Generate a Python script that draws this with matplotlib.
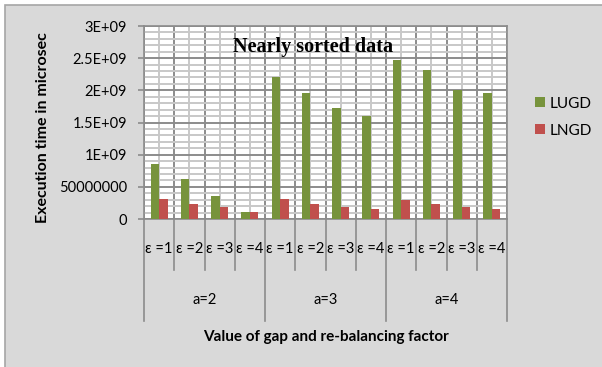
import matplotlib
matplotlib.use("Agg")
import matplotlib.pyplot as plt
import numpy as np
from matplotlib.patches import Rectangle
from matplotlib.transforms import blended_transform_factory

plt.rcParams['font.family'] = ['Lato', 'DejaVu Sans']

# Data: execution times for nearly sorted input
groups = ["a=2", "a=3", "a=4"]
eps_labels = ["ε =1", "ε =2", "ε =3", "ε =4"]
lugd = [0.86e9, 0.62e9, 0.36e9, 0.11e9,
        2.21e9, 1.96e9, 1.73e9, 1.60e9,
        2.47e9, 2.31e9, 2.01e9, 1.955e9]
lngd = [0.305e9, 0.233e9, 0.18e9, 0.104e9,
        0.305e9, 0.233e9, 0.19e9, 0.155e9,
        0.30e9, 0.228e9, 0.18e9, 0.15e9]
ytick_vals = [0, 0.5e9, 1.0e9, 1.5e9, 2.0e9, 2.5e9, 3.0e9]
ytick_labels = ["0", "50000000", "1E+09", "1.5E+09", "2E+09", "2.5E+09", "3E+09"]

W, H = 602, 367
fig = plt.figure(figsize=(W / 100, H / 100), dpi=100)
fig.patch.set_facecolor("white")

# chart area background with a thin border
fig.patches.append(Rectangle((5 / W, -0.1), 1.2, 1 - 5 / H + 0.1,
                             transform=fig.transFigure, facecolor="#d9d9d9",
                             edgecolor="#a6a6a6", linewidth=1.2, zorder=-10))

left, right, top, bottom = 144, 507, 26, 219
ax = fig.add_axes([left / W, 1 - bottom / H, (right - left) / W, (bottom - top) / H])
ax.set_facecolor("white")

n = len(lugd)
x = np.arange(n)
bw = 0.28
ax.bar(x - bw / 2, lugd, width=bw, color="#77933c", label="LUGD", zorder=3)
ax.bar(x + bw / 2, lngd, width=bw, color="#c0504d", label="LNGD", zorder=3)

ax.set_xlim(-0.5, n - 0.5)
ax.set_ylim(0, 3e9)

# gridlines: dark at major steps / category boundaries, light in between
ax.set_yticks(ytick_vals)
ax.set_yticklabels(ytick_labels, fontsize=10.5)
ax.set_yticks(np.arange(0, 3e9 + 1, 1e8), minor=True)
ax.set_xticks(np.arange(n + 1) - 0.5)
ax.set_xticks(x, minor=True)
ax.set_xticklabels([])
ax.grid(which="major", color="#8c8c8c", linewidth=1.4, zorder=1)
ax.grid(which="minor", color="#c8c8c8", linewidth=1.4, zorder=0.5)
ax.set_axisbelow(True)
ax.tick_params(axis="y", which="major", length=4.3, width=1.2, color="#8c8c8c", pad=8)
ax.tick_params(axis="y", which="minor", length=0)
ax.tick_params(axis="x", which="both", length=0)
for s in ax.spines.values():
    s.set_color("#8c8c8c")
    s.set_linewidth(1.2)

# two-level category axis below the plot
tr = blended_transform_factory(ax.transData, ax.transAxes)
for k in range(n + 1):
    depth = -0.53 if k % 4 == 0 else -0.265
    ax.plot([k - 0.5, k - 0.5], [0, depth], color="#8c8c8c", lw=1.2,
            transform=tr, clip_on=False)
for i in range(n):
    ax.text(i, -0.155, eps_labels[i % 4], transform=tr, ha="center",
            va="center", fontsize=10.5)
for g, name in enumerate(groups):
    ax.text(g * 4 + 1.5, -0.42, name, transform=tr, ha="center",
            va="center", fontsize=10.5)

ax.text(0.5, -0.61, "Value of gap and re-balancing factor", transform=ax.transAxes,
        ha="center", va="center", fontsize=11, fontweight="bold")
fig.text(43 / W, 1 - 128 / H, "Execution time in microsec", rotation=90,
         ha="center", va="center", fontsize=11.5, fontweight="bold")

ax.text(313 / W, 1 - 47 / H, "Nearly sorted data", transform=fig.transFigure,
        ha="center", va="center", fontsize=14.5, fontweight="bold",
        family="Liberation Serif", zorder=5)

fig.legend(loc="upper left", bbox_to_anchor=(521 / W, 1 - 83 / H),
           frameon=False, fontsize=11, handlelength=0.65, handleheight=0.65,
           handletextpad=0.35, labelspacing=0.85)

fig.savefig("out.png", dpi=100)
